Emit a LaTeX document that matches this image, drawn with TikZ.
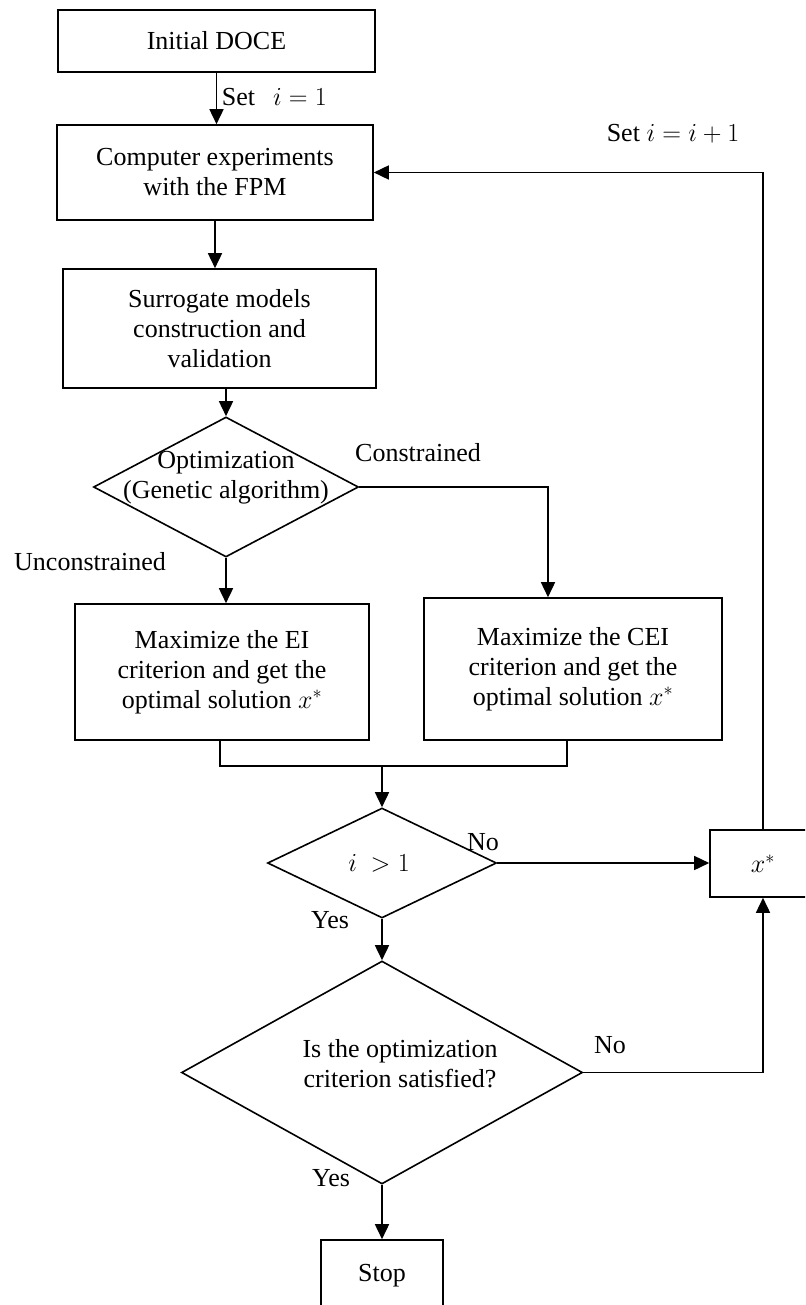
\RequirePackage{fix-cm}
\documentclass[tikz,border=0pt]{standalone}
\usepackage{fontspec}
\setmainfont{Liberation Serif}
\usetikzlibrary{arrows.meta,shapes.geometric}
\begin{document}
\begin{tikzpicture}[x=1pt,y=-1pt,
  font=\fontsize{26}{30}\selectfont, line width=1.6pt,
  box/.style={draw, rectangle, inner sep=0pt, align=center},
  dec/.style={draw, diamond, inner sep=0pt},
  lbl/.style={inner sep=0pt, align=center},
  arr/.style={-{Triangle[length=15pt,width=14pt]}}]
\useasboundingbox (0,0) rectangle (805,1305);
\clip (0,0) rectangle (805,1305);

% nodes
\node[box, minimum width=317pt, minimum height=62pt] (init) at (216.5,41) {Initial DOCE};
\node[box, minimum width=316pt, minimum height=95pt] (comp) at (215,172.5) {Computer experiments\\with the FPM};
\node[box, minimum width=313pt, minimum height=119pt] (surr) at (219.5,328.5) {Surrogate models\\construction and\\validation};
\node[dec, minimum width=265pt, minimum height=140pt] (opt) at (226,487) {};
\node[lbl] (optt) at (226,478) {Optimization\\(Genetic algorithm)};
\node[box, minimum width=294pt, minimum height=136pt] (ei) at (222,672) {Maximize the EI\\criterion and get the\\optimal solution $x^*$};
\node[box, minimum width=298pt, minimum height=142pt] (cei) at (573,669) {Maximize the CEI\\criterion and get the\\optimal solution $x^*$};
\node[dec, minimum width=229pt, minimum height=110pt] (chk) at (382,863) {};
\node[lbl] (chkt) at (379,863) {$i\ > 1$};
\node[box, minimum width=106pt, minimum height=67pt] (xs) at (763,863.5) {$x^*$};
\node[dec, minimum width=401pt, minimum height=223pt] (crit) at (382,1072.5) {};
\node[lbl] (critt) at (400,1064) {Is the optimization\\criterion satisfied?};
\node[box, minimum width=122pt, minimum height=72pt] (stop) at (382,1276) {Stop};
\coordinate (mrg) at (382,766);

% connectors
\draw[arr] (init.south) -- (init.south |- comp.north);
\draw[arr] (comp.south) -- (comp.south |- surr.north);
\draw[arr] (surr.south -| opt.north) -- (opt.north);
\draw[arr] (opt.east) -| ([xshift=-25pt]cei.north);
\draw[arr] (opt.south) -- (opt.south |- ei.north);
\draw ([xshift=-2pt]ei.south) |- (mrg) -| ([xshift=-6pt]cei.south);
\draw[arr] (mrg) -- (chk.north);
\draw[arr] (chk.east) -- (chk.east -| xs.west);
\draw[arr] (chk.south) -- (crit.north);
\draw[arr] (crit.east) -| (xs.south);
\draw[arr] (xs.north) |- (comp.east);
\draw[arr] (crit.south) -- (stop.north);

% labels
\node[lbl, anchor=west] (l1) at (221,97) {Set\hspace{18pt}$i = 1$};
\node[lbl] (l2) at (673,134) {Set $i = i + 1$};
\node[lbl] (l3) at (418,453) {Constrained};
\node[lbl] (l4) at (90,562) {Unconstrained};
\node[lbl] (l5) at (483,842) {No};
\node[lbl] (l6) at (330,920) {Yes};
\node[lbl] (l7) at (610,1045) {No};
\node[lbl] (l8) at (331,1178) {Yes};
\end{tikzpicture}
\end{document}
